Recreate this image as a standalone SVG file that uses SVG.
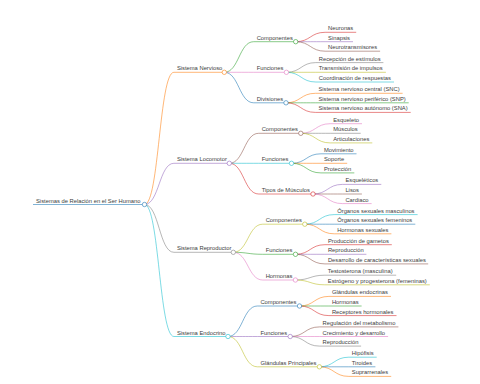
<svg xmlns="http://www.w3.org/2000/svg" width="480" height="384" viewBox="0 0 480 384">
<style>
text{font-family:"Liberation Sans",Arial,sans-serif;font-size:5.8px;fill:#3c3c3c;stroke:none}
line,path{fill:none;stroke-width:0.75;stroke-opacity:0.75}
circle{fill:#fff;stroke-width:0.6}
.c0{stroke:#1f77b4}.c1{stroke:#ff7f0e}.c2{stroke:#2ca02c}.c3{stroke:#d62728}.c4{stroke:#9467bd}
.c5{stroke:#8c564b}.c6{stroke:#e377c2}.c7{stroke:#7f7f7f}.c8{stroke:#bcbd22}.c9{stroke:#17becf}
</style>
<rect width="480" height="384" fill="#fff"/>
<g id="connectors">
<path class="c1" d="M144.5,204.5C159.2,204.5 159.2,72.3 173.9,72.3"/>
<path class="c4" d="M144.5,204.5C159.2,204.5 159.2,163.3 173.9,163.3"/>
<path class="c7" d="M144.5,204.5C159.2,204.5 159.2,252.3 173.9,252.3"/>
<path class="c9" d="M144.5,204.5C159.2,204.5 159.2,336.5 173.9,336.5"/>
<path class="c2" d="M224.3,72.3C239,72.3 239,41.7 253.7,41.7"/>
<path class="c6" d="M224.3,72.3C239,72.3 239,72.3 253.7,72.3"/>
<path class="c0" d="M224.3,72.3C239,72.3 239,102.8 253.7,102.8"/>
<path class="c5" d="M229.3,163.3C244,163.3 244,133.3 258.7,133.3"/>
<path class="c9" d="M229.3,163.3C244,163.3 244,163.3 258.7,163.3"/>
<path class="c3" d="M229.3,163.3C244,163.3 244,194 258.7,194"/>
<path class="c8" d="M233.3,252.3C248,252.3 248,224.2 262.7,224.2"/>
<path class="c2" d="M233.3,252.3C248,252.3 248,254.3 262.7,254.3"/>
<path class="c6" d="M233.3,252.3C248,252.3 248,280 262.7,280"/>
<path class="c0" d="M228,336.5C242.7,336.5 242.7,306 257.4,306"/>
<path class="c4" d="M228,336.5C242.7,336.5 242.7,336.5 257.4,336.5"/>
<path class="c8" d="M228,336.5C242.7,336.5 242.7,366.8 257.4,366.8"/>
<path class="c3" d="M295.7,41.7C310.4,41.7 310.4,32.3 325.1,32.3"/>
<path class="c4" d="M295.7,41.7C310.4,41.7 310.4,41.7 325.1,41.7"/>
<path class="c5" d="M295.7,41.7C310.4,41.7 310.4,51.2 325.1,51.2"/>
<path class="c7" d="M286.4,72.3C301.1,72.3 301.1,62.6 315.8,62.6"/>
<path class="c8" d="M286.4,72.3C301.1,72.3 301.1,72.3 315.8,72.3"/>
<path class="c9" d="M286.4,72.3C301.1,72.3 301.1,82 315.8,82"/>
<path class="c1" d="M286,102.8C300.7,102.8 300.7,93.3 315.4,93.3"/>
<path class="c2" d="M286,102.8C300.7,102.8 300.7,102.8 315.4,102.8"/>
<path class="c3" d="M286,102.8C300.7,102.8 300.7,112.4 315.4,112.4"/>
<path class="c6" d="M300.8,133.3C315.5,133.3 315.5,123.7 330.2,123.7"/>
<path class="c7" d="M300.8,133.3C315.5,133.3 315.5,133.3 330.2,133.3"/>
<path class="c8" d="M300.8,133.3C315.5,133.3 315.5,142.9 330.2,142.9"/>
<path class="c0" d="M291.5,163.3C306.2,163.3 306.2,153.8 320.9,153.8"/>
<path class="c1" d="M291.5,163.3C306.2,163.3 306.2,163.3 320.9,163.3"/>
<path class="c2" d="M291.5,163.3C306.2,163.3 306.2,172.9 320.9,172.9"/>
<path class="c4" d="M313,194C327.7,194 327.7,184.4 342.4,184.4"/>
<path class="c5" d="M313,194C327.7,194 327.7,194 342.4,194"/>
<path class="c6" d="M313,194C327.7,194 327.7,203.6 342.4,203.6"/>
<path class="c9" d="M304.8,224.2C319.5,224.2 319.5,214.6 334.2,214.6"/>
<path class="c0" d="M304.8,224.2C319.5,224.2 319.5,224.2 334.2,224.2"/>
<path class="c1" d="M304.8,224.2C319.5,224.2 319.5,233.8 334.2,233.8"/>
<path class="c3" d="M295.5,254.3C310.2,254.3 310.2,244.7 324.9,244.7"/>
<path class="c4" d="M295.5,254.3C310.2,254.3 310.2,254.3 324.9,254.3"/>
<path class="c5" d="M295.5,254.3C310.2,254.3 310.2,263.9 324.9,263.9"/>
<path class="c7" d="M295.4,280C310.1,280 310.1,275.2 324.8,275.2"/>
<path class="c8" d="M295.4,280C310.1,280 310.1,284.8 324.8,284.8"/>
<path class="c1" d="M299.5,306C314.2,306 314.2,296.4 328.9,296.4"/>
<path class="c2" d="M299.5,306C314.2,306 314.2,306 328.9,306"/>
<path class="c3" d="M299.5,306C314.2,306 314.2,315.6 328.9,315.6"/>
<path class="c5" d="M290.2,336.5C304.9,336.5 304.9,326.9 319.6,326.9"/>
<path class="c6" d="M290.2,336.5C304.9,336.5 304.9,336.5 319.6,336.5"/>
<path class="c7" d="M290.2,336.5C304.9,336.5 304.9,346.1 319.6,346.1"/>
<path class="c9" d="M319.4,366.8C334.1,366.8 334.1,357.2 348.8,357.2"/>
<path class="c0" d="M319.4,366.8C334.1,366.8 334.1,366.8 348.8,366.8"/>
<path class="c1" d="M319.4,366.8C334.1,366.8 334.1,376.4 348.8,376.4"/>
</g>
<g id="root" class="c0"><line x1="33" y1="204.5" x2="144.5" y2="204.5"/><circle cx="144.5" cy="204.5" r="2.2"/><text x="36" y="202.5">Sistemas de Relación en el Ser Humano</text></g>
<g id="nervioso" class="c1"><line x1="173.9" y1="72.3" x2="224.3" y2="72.3"/><circle cx="224.3" cy="72.3" r="2.2"/><text x="176.9" y="70.3">Sistema Nervioso</text></g>
<g id="locomotor" class="c4"><line x1="173.9" y1="163.3" x2="229.3" y2="163.3"/><circle cx="229.3" cy="163.3" r="2.2"/><text x="176.9" y="161.3">Sistema Locomotor</text></g>
<g id="reproductor" class="c7"><line x1="173.9" y1="252.3" x2="233.3" y2="252.3"/><circle cx="233.3" cy="252.3" r="2.2"/><text x="176.9" y="250.3">Sistema Reproductor</text></g>
<g id="endocrino" class="c9"><line x1="173.9" y1="336.5" x2="228" y2="336.5"/><circle cx="228" cy="336.5" r="2.2"/><text x="176.9" y="334.5">Sistema Endocrino</text></g>
<g id="n-componentes" class="c2"><line x1="253.7" y1="41.7" x2="295.7" y2="41.7"/><circle cx="295.7" cy="41.7" r="2.2"/><text x="256.7" y="39.7">Componentes</text></g>
<g id="n-funciones" class="c6"><line x1="253.7" y1="72.3" x2="286.4" y2="72.3"/><circle cx="286.4" cy="72.3" r="2.2"/><text x="256.7" y="70.3">Funciones</text></g>
<g id="n-divisiones" class="c0"><line x1="253.7" y1="102.8" x2="286" y2="102.8"/><circle cx="286" cy="102.8" r="2.2"/><text x="256.7" y="100.8">Divisiones</text></g>
<g id="l-componentes" class="c5"><line x1="258.7" y1="133.3" x2="300.8" y2="133.3"/><circle cx="300.8" cy="133.3" r="2.2"/><text x="261.7" y="131.3">Componentes</text></g>
<g id="l-funciones" class="c9"><line x1="258.7" y1="163.3" x2="291.5" y2="163.3"/><circle cx="291.5" cy="163.3" r="2.2"/><text x="261.7" y="161.3">Funciones</text></g>
<g id="l-tipos" class="c3"><line x1="258.7" y1="194" x2="313" y2="194"/><circle cx="313" cy="194" r="2.2"/><text x="261.7" y="192">Tipos de Músculos</text></g>
<g id="r-componentes" class="c8"><line x1="262.7" y1="224.2" x2="304.8" y2="224.2"/><circle cx="304.8" cy="224.2" r="2.2"/><text x="265.7" y="222.2">Componentes</text></g>
<g id="r-funciones" class="c2"><line x1="262.7" y1="254.3" x2="295.5" y2="254.3"/><circle cx="295.5" cy="254.3" r="2.2"/><text x="265.7" y="252.3">Funciones</text></g>
<g id="r-hormonas" class="c6"><line x1="262.7" y1="280" x2="295.4" y2="280"/><circle cx="295.4" cy="280" r="2.2"/><text x="265.7" y="278">Hormonas</text></g>
<g id="e-componentes" class="c0"><line x1="257.4" y1="306" x2="299.5" y2="306"/><circle cx="299.5" cy="306" r="2.2"/><text x="260.4" y="304">Componentes</text></g>
<g id="e-funciones" class="c4"><line x1="257.4" y1="336.5" x2="290.2" y2="336.5"/><circle cx="290.2" cy="336.5" r="2.2"/><text x="260.4" y="334.5">Funciones</text></g>
<g id="e-glandulas" class="c8"><line x1="257.4" y1="366.8" x2="319.4" y2="366.8"/><circle cx="319.4" cy="366.8" r="2.2"/><text x="260.4" y="364.8">Glándulas Principales</text></g>
<g id="leaf-1" class="c3"><line x1="325.1" y1="32.3" x2="356.2" y2="32.3"/><text x="328.1" y="30.3">Neuronas</text></g>
<g id="leaf-2" class="c4"><line x1="325.1" y1="41.7" x2="353" y2="41.7"/><text x="328.1" y="39.7">Sinapsis</text></g>
<g id="leaf-3" class="c5"><line x1="325.1" y1="51.2" x2="380.1" y2="51.2"/><text x="328.1" y="49.2">Neurotransmisores</text></g>
<g id="leaf-4" class="c7"><line x1="315.8" y1="62.6" x2="383.4" y2="62.6"/><text x="318.8" y="60.6">Recepción de estímulos</text></g>
<g id="leaf-5" class="c8"><line x1="315.8" y1="72.3" x2="385.9" y2="72.3"/><text x="318.8" y="70.3">Transmisión de impulsos</text></g>
<g id="leaf-6" class="c9"><line x1="315.8" y1="82" x2="394" y2="82"/><text x="318.8" y="80">Coordinación de respuestas</text></g>
<g id="leaf-7" class="c1"><line x1="315.4" y1="93.3" x2="402.6" y2="93.3"/><text x="318.4" y="91.3">Sistema nervioso central (SNC)</text></g>
<g id="leaf-8" class="c2"><line x1="315.4" y1="102.8" x2="408.7" y2="102.8"/><text x="318.4" y="100.8">Sistema nervioso periférico (SNP)</text></g>
<g id="leaf-9" class="c3"><line x1="315.4" y1="112.4" x2="410.7" y2="112.4"/><text x="318.4" y="110.4">Sistema nervioso autónomo (SNA)</text></g>
<g id="leaf-10" class="c6"><line x1="330.2" y1="123.7" x2="362" y2="123.7"/><text x="333.2" y="121.7">Esqueleto</text></g>
<g id="leaf-11" class="c7"><line x1="330.2" y1="133.3" x2="360.7" y2="133.3"/><text x="333.2" y="131.3">Músculos</text></g>
<g id="leaf-12" class="c8"><line x1="330.2" y1="142.9" x2="372.3" y2="142.9"/><text x="333.2" y="140.9">Articulaciones</text></g>
<g id="leaf-13" class="c0"><line x1="320.9" y1="153.8" x2="356.5" y2="153.8"/><text x="323.9" y="151.8">Movimiento</text></g>
<g id="leaf-14" class="c1"><line x1="320.9" y1="163.3" x2="347.2" y2="163.3"/><text x="323.9" y="161.3">Soporte</text></g>
<g id="leaf-15" class="c2"><line x1="320.9" y1="172.9" x2="354.3" y2="172.9"/><text x="323.9" y="170.9">Protección</text></g>
<g id="leaf-16" class="c4"><line x1="342.4" y1="184.4" x2="381.3" y2="184.4"/><text x="345.4" y="182.4">Esqueléticos</text></g>
<g id="leaf-17" class="c5"><line x1="342.4" y1="194" x2="361.9" y2="194"/><text x="345.4" y="192">Lisos</text></g>
<g id="leaf-18" class="c6"><line x1="342.4" y1="203.6" x2="371.6" y2="203.6"/><text x="345.4" y="201.6">Cardiaco</text></g>
<g id="leaf-19" class="c9"><line x1="334.2" y1="214.6" x2="417.6" y2="214.6"/><text x="337.2" y="212.6">Órganos sexuales masculinos</text></g>
<g id="leaf-20" class="c0"><line x1="334.2" y1="224.2" x2="415.3" y2="224.2"/><text x="337.2" y="222.2">Órganos sexuales femeninos</text></g>
<g id="leaf-21" class="c1"><line x1="334.2" y1="233.8" x2="391.4" y2="233.8"/><text x="337.2" y="231.8">Hormonas sexuales</text></g>
<g id="leaf-22" class="c3"><line x1="324.9" y1="244.7" x2="391.8" y2="244.7"/><text x="327.9" y="242.7">Producción de gametos</text></g>
<g id="leaf-23" class="c4"><line x1="324.9" y1="254.3" x2="366.4" y2="254.3"/><text x="327.9" y="252.3">Reproducción</text></g>
<g id="leaf-24" class="c5"><line x1="324.9" y1="263.9" x2="428.2" y2="263.9"/><text x="327.9" y="261.9">Desarrollo de características sexuales</text></g>
<g id="leaf-25" class="c7"><line x1="324.8" y1="275.2" x2="396.2" y2="275.2"/><text x="327.8" y="273.2">Testosterona (masculina)</text></g>
<g id="leaf-26" class="c8"><line x1="324.8" y1="284.8" x2="429.8" y2="284.8"/><text x="327.8" y="282.8">Estrógeno y progesterona (femeninas)</text></g>
<g id="leaf-27" class="c1"><line x1="328.9" y1="296.4" x2="391" y2="296.4"/><text x="331.9" y="294.4">Glándulas endocrinas</text></g>
<g id="leaf-28" class="c2"><line x1="328.9" y1="306" x2="361.6" y2="306"/><text x="331.9" y="304">Hormonas</text></g>
<g id="leaf-29" class="c3"><line x1="328.9" y1="315.6" x2="396.5" y2="315.6"/><text x="331.9" y="313.6">Receptores hormonales</text></g>
<g id="leaf-30" class="c5"><line x1="319.6" y1="326.9" x2="398.4" y2="326.9"/><text x="322.6" y="324.9">Regulación del metabolismo</text></g>
<g id="leaf-31" class="c6"><line x1="319.6" y1="336.5" x2="388.1" y2="336.5"/><text x="322.6" y="334.5">Crecimiento y desarrollo</text></g>
<g id="leaf-32" class="c7"><line x1="319.6" y1="346.1" x2="361.1" y2="346.1"/><text x="322.6" y="344.1">Reproducción</text></g>
<g id="leaf-33" class="c9"><line x1="348.8" y1="357.2" x2="376.7" y2="357.2"/><text x="351.8" y="355.2">Hipófisis</text></g>
<g id="leaf-34" class="c0"><line x1="348.8" y1="366.8" x2="375.4" y2="366.8"/><text x="351.8" y="364.8">Tiroides</text></g>
<g id="leaf-35" class="c1"><line x1="348.8" y1="376.4" x2="391.2" y2="376.4"/><text x="351.8" y="374.4">Suprarrenales</text></g>
</svg>
